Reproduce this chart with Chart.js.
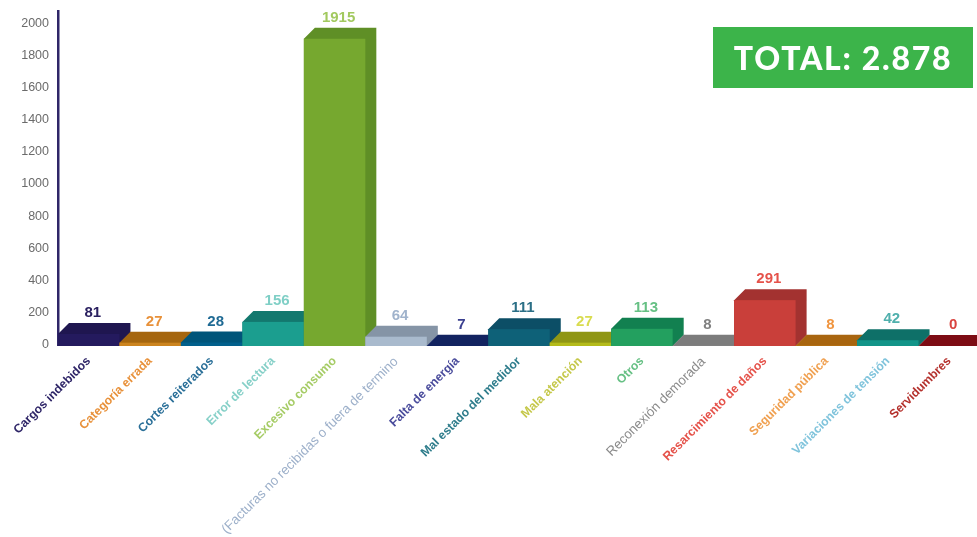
<!DOCTYPE html>
<html>
<head>
<meta charset="utf-8">
<script src="https://cdn.jsdelivr.net/npm/chart.js@4"></script>
<style>
  html, body { margin: 0; background: #fff; }
  #wrap { position: relative; width: 977px; height: 537px; overflow: hidden; }
  #chart { filter: blur(0.4px); }
  #total {
    position: absolute; left: 713px; top: 27px; width: 260px; height: 61px;
    background: #3cb44a; color: #fff; text-align: center; filter: blur(0.4px);
    font: 900 32px/61px Lato, sans-serif; letter-spacing: 1.7px;
  }
</style>
</head>
<body>
<div id="wrap">
  <canvas id="chart" width="980" height="537"></canvas>
  <div id="total">TOTAL: 2.878</div>
</div>
<script>
const categories = [
  "Cargos indebidos", "Categoría errada", "Cortes reiterados", "Error de lectura", "Excesivo consumo",
  "(Facturas no recibidas o fuera de termino", "Falta de energía", "Mal estado del medidor", "Mala atención", "Otros",
  "Reconexión demorada", "Resarcimiento de daños", "Seguridad pública", "Variaciones de tensión", "Servidumbres",
];
const values = [81, 27, 28, 156, 1915, 64, 7, 111, 27, 113, 8, 291, 8, 42, 0];
const yTicks = [0, 200, 400, 600, 800, 1000, 1200, 1400, 1600, 1800, 2000];

const frontColors = ["#241a5e", "#cc841f", "#01608c", "#1b9e8f", "#76a82f", "#a9bacd", "#16296e", "#0e6178", "#b4bb1a", "#23a05f", "#8a8a8a", "#c93f3a", "#cc841f", "#129488", "#8c0f18"];
const topColors = ["#1f1650", "#a5660f", "#00557a", "#13786e", "#5f8f26", "#8594a6", "#122360", "#0c4e66", "#8f9614", "#128050", "#7c7c7c", "#a33230", "#a8650f", "#0e7068", "#7d0c14"];
const valueColors = ["#2a2060", "#e8913a", "#1f6a94", "#7fcfc6", "#a2c95f", "#a0b3cc", "#3a3f8f", "#2b6f86", "#d9dc50", "#66c084", "#808080", "#e5524a", "#f0953f", "#50b0ad", "#d9443f"];
const labelColors = ["#2f2668", "#e8913a", "#2a6f98", "#86d0c8", "#a6cc66", "#9db0ca", "#4a4c9c", "#2f7d8c", "#c5c84a", "#66c084", "#8a8a8a", "#e5524a", "#f0a050", "#80c4dc", "#b5322e"];
const lightLabels = ["(Facturas no recibidas o fuera de termino", "Reconexión demorada"];

const DEPTH = 11;

// the front face sits a little under the tick value, the back a little over it
const bars3d = {
  id: "bars3d",
  beforeDatasetDraw(chart, args) {
    const { ctx } = chart;
    const y0 = chart.scales.y.getPixelForValue(0);
    const base = y0 + 1;
    args.meta.data.forEach((bar, i) => {
      const left = bar.x - bar.width / 2;
      const right = bar.x + bar.width / 2;
      const top = Math.min(bar.y + 2, base);
      ctx.fillStyle = topColors[i];
      ctx.beginPath();
      ctx.moveTo(left, top);
      ctx.lineTo(left + DEPTH, top - DEPTH);
      ctx.lineTo(right + DEPTH, top - DEPTH);
      ctx.lineTo(right + DEPTH, base - DEPTH);
      ctx.lineTo(right, base);
      ctx.lineTo(left, base);
      ctx.closePath();
      ctx.fill();
      ctx.fillStyle = frontColors[i];
      ctx.fillRect(left, top, bar.width, base - top);

      ctx.fillStyle = valueColors[i];
      ctx.font = "bold 15px 'Liberation Sans'";
      ctx.textAlign = "center";
      ctx.textBaseline = "middle";
      ctx.fillText(values[i], bar.x + 4, top - DEPTH - 10);
    });
    return false;
  },
};

new Chart(document.getElementById("chart"), {
  type: "bar",
  data: {
    labels: categories,
    datasets: [{
      data: values,
      backgroundColor: frontColors,
      barPercentage: 1,
      categoryPercentage: 1,
    }],
  },
  plugins: [bars3d],
  options: {
    responsive: false,
    animation: false,
    layout: { padding: { top: 11, right: 0, left: 0, bottom: 0 } },
    plugins: { legend: { display: false }, tooltip: { enabled: false } },
    scales: {
      x: {
        grid: { display: false },
        border: { display: false },
        afterFit: (s) => { s.height = 192; s.paddingLeft = 0; s.paddingRight = 0; },
        ticks: {
          autoSkip: false,
          maxRotation: 45,
          minRotation: 45,
          padding: 1,
          color: labelColors,
          font: (c) => {
            const light = lightLabels.includes(categories[c.index]);
            return { family: "'Liberation Sans'", size: light ? 13.3 : 12.2, weight: light ? "normal" : "bold" };
          },
        },
      },
      y: {
        min: 0,
        max: 2075,
        grid: { display: false, drawTicks: false },
        border: { color: "#2f2668", width: 2.5 },
        afterFit: (s) => { s.width = 58; s.paddingTop = 0; s.paddingBottom = 0; },
        afterBuildTicks: (s) => { s.ticks = yTicks.map((v) => ({ value: v })); },
        ticks: {
          padding: 9,
          color: "#6b6b6b",
          font: { family: "'Liberation Sans'", size: 12.5 },
          callback: (v) => String(v),
        },
      },
    },
  },
});
</script>
</body>
</html>
